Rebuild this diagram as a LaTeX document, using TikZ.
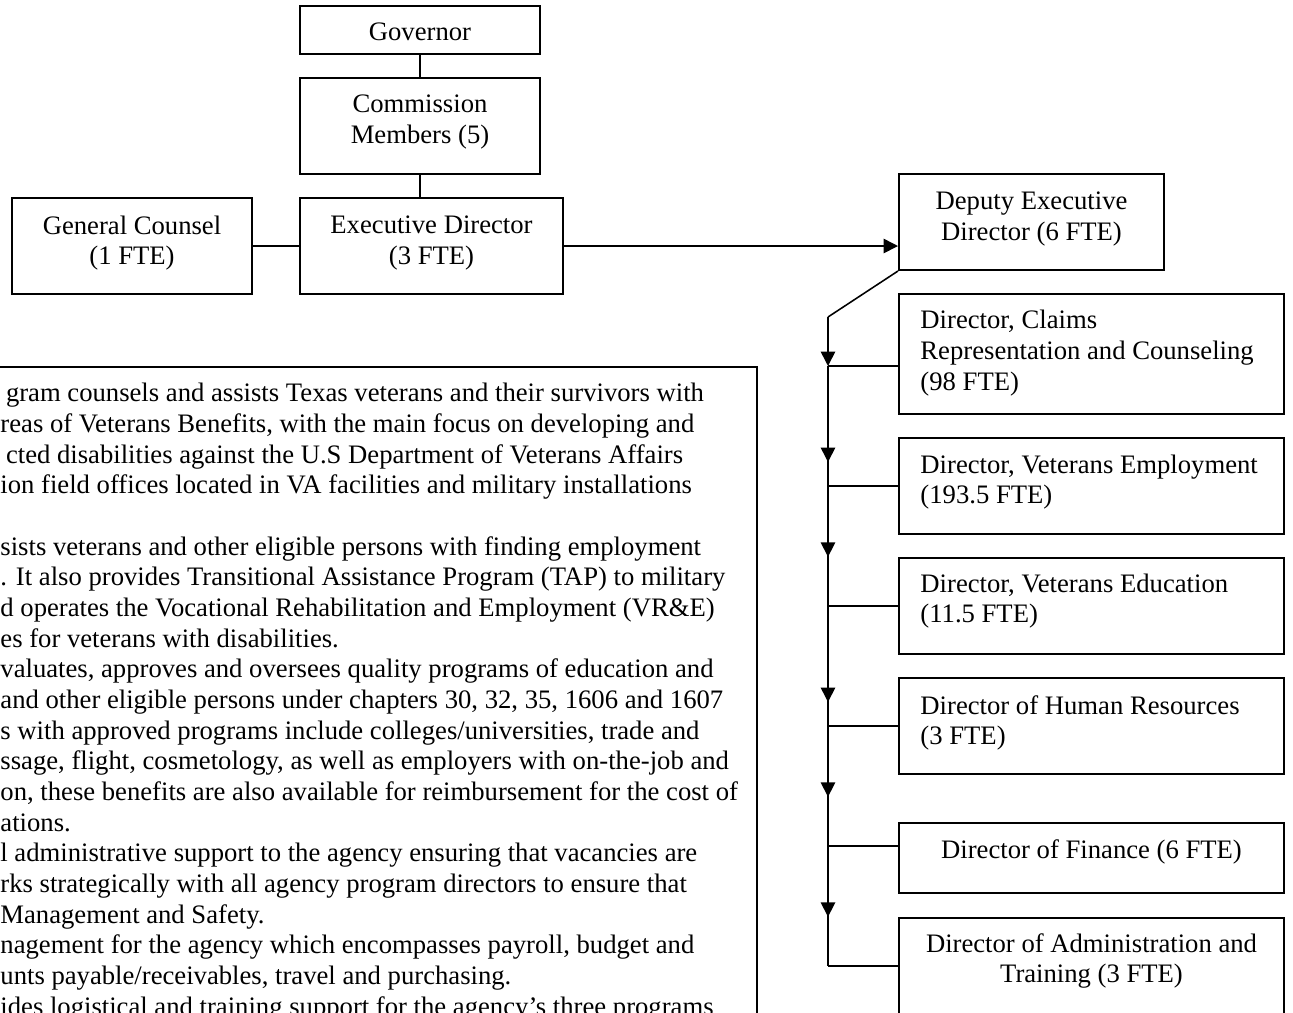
\documentclass[tikz,border=0pt]{standalone}
\usepackage{fontspec}
\setmainfont{Liberation Serif}
\usetikzlibrary{arrows.meta,decorations.markings}
\newcommand{\orgfont}{\fontsize{12}{13.8}\selectfont}

\begin{document}
\begin{tikzpicture}[x=0.45pt,y=-0.45pt,
  box/.style={rectangle,draw=black,line width=0.9pt,inner sep=0pt,font=\orgfont},
  boxsize/.style 2 args={minimum width=#1*0.45pt,minimum height=#2*0.45pt},
  tag/.style={font=\orgfont,inner sep=0pt},
  link/.style={draw=black,line width=0.7pt},
  arrowed/.style={-{Triangle[width=6.5pt,length=6.5pt]}},
  spine/.style={link,postaction={decorate},decoration={markings,mark=at position #1 with {\arrow{Triangle[width=6.5pt,length=6.5pt]}}}}]
\useasboundingbox (0,0) rectangle (1293,1012);
\clip (0,0) rectangle (1293,1012);
% top of the chart
\node[box,boxsize={240}{48}] (governor) at (420,30) {};
\node[tag] (governorText) at (420,32) {Governor};
\node[box,boxsize={240}{96}] (commission) at (420,126) {};
\node[tag,align=center] (commissionText) at (420,122) {Commission\\Members (5)};
\draw[link] (governor)--(commission);
\node[box,boxsize={263}{96}] (exec) at (431.5,246) {};
\node[tag,align=center] (execText) at (431.5,243) {Executive Director\\(3 FTE)};
\draw[link] (commission.south)--(commission.south |- exec.north);
\node[box,boxsize={240}{96}] (counsel) at (132,246) {};
\node[tag,align=center] (counselText) at (132,243) {General Counsel\\(1 FTE)};
\draw[link] (counsel)--(exec);
\node[box,boxsize={265}{96}] (deputy) at (1031.5,222) {};
\node[tag,align=center] (deputyText) at (1031.5,219) {Deputy Executive\\Director (6 FTE)};
\draw[link,arrowed] (exec.east)--(exec.east -| deputy.west);
% directors
\node[box,boxsize={385}{120}] (claims) at (1091.5,354) {};
\node[tag,anchor=west,align=left] (claimsText) at (920,353) {Director, Claims\\Representation and Counseling\\(98 FTE)};
\node[box,boxsize={385}{96}] (employ) at (1091.5,486) {};
\node[tag,anchor=west,align=left] (employText) at (920,482) {Director, Veterans Employment\\(193.5 FTE)};
\node[box,boxsize={385}{96}] (educ) at (1091.5,606) {};
\node[tag,anchor=west,align=left] (educText) at (920,601) {Director, Veterans Education\\(11.5 FTE)};
\node[box,boxsize={385}{96}] (hr) at (1091.5,726) {};
\node[tag,anchor=west,align=left] (hrText) at (920,723) {Director of Human Resources\\(3 FTE)};
\node[box,boxsize={385}{70}] (finance) at (1091.5,858) {};
\node[tag] (financeText) at (1091.5,852) {Director of Finance (6 FTE)};
\node[box,boxsize={385}{112}] (admin) at (1091.5,974) {};
\node[tag,align=center] (adminText) at (1091.5,961) {Director of Administration and\\Training (3 FTE)};
% spine from the deputy
\coordinate (spineTop) at (828,317);
\coordinate (claimsJoint) at (828,366);
\coordinate (employJoint) at (828,486);
\coordinate (educJoint) at (828,606);
\coordinate (hrJoint) at (828,726);
\coordinate (financeJoint) at (828,846);
\coordinate (adminJoint) at (828,966);
\draw[link] (deputy.south west)--(spineTop);
\draw[link,arrowed] (spineTop)--(claimsJoint);
\draw[spine=0.8] (claimsJoint)--(employJoint);
\draw[spine=0.59] (employJoint)--(educJoint);
\draw[spine=0.8] (educJoint)--(hrJoint);
\draw[spine=0.59] (hrJoint)--(financeJoint);
\draw[spine=0.59] (financeJoint)--(adminJoint);
\draw[link] (claimsJoint)--(claimsJoint -| claims.west);
\draw[link] (employJoint)--(employJoint -| employ.west);
\draw[link] (educJoint)--(educJoint -| educ.west);
\draw[link] (hrJoint)--(hrJoint -| hr.west);
\draw[link] (financeJoint)--(financeJoint -| finance.west);
\draw[link] (adminJoint)--(adminJoint -| admin.west);
% program summary
\node[box,anchor=north west,boxsize={1100}{700}] (summary) at (-344,366) {};
\node[tag,anchor=north west,align=left] (summaryText) at (0,383) {\hspace*{2.5pt}gram counsels and assists Texas veterans and their survivors with\\
reas of Veterans Benefits, with the main focus on developing and\\
\hspace*{2.5pt}cted disabilities against the U.S Department of Veterans Affairs\\
ion field offices located in VA facilities and military installations\\[13.8pt]
sists veterans and other eligible persons with finding employment\\
. It also provides Transitional Assistance Program (TAP) to military\\
d operates the Vocational Rehabilitation and Employment (VR\&E)\\
es for veterans with disabilities.\\
valuates, approves and oversees quality programs of education and\\
and other eligible persons under chapters 30, 32, 35, 1606 and 1607\\
s with approved programs include colleges/universities, trade and\\
ssage, flight, cosmetology, as well as employers with on-the-job and\\
on, these benefits are also available for reimbursement for the cost of\\
ations.\\
l administrative support to the agency ensuring that vacancies are\\
rks strategically with all agency program directors to ensure that\\
Management and Safety.\\
nagement for the agency which encompasses payroll, budget and\\
unts payable/receivables, travel and purchasing.\\
ides logistical and training support for the agency’s three programs};
\end{tikzpicture}
\end{document}
